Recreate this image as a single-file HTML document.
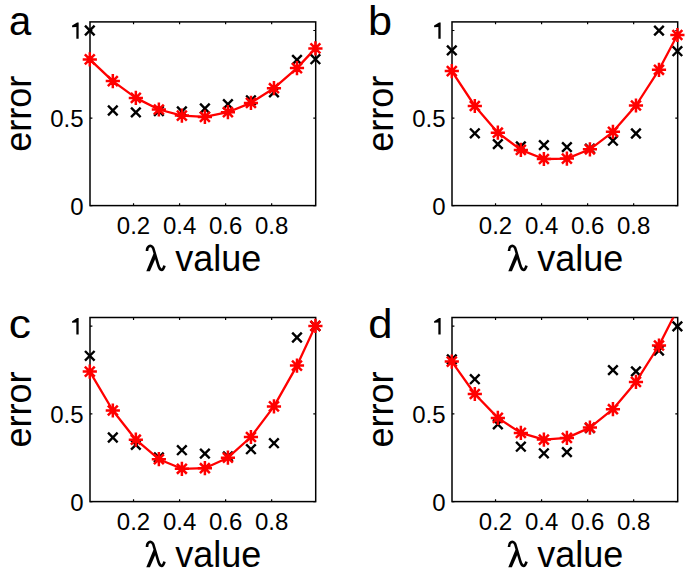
<!DOCTYPE html><html><head><meta charset="utf-8"><style>html,body{margin:0;padding:0;background:#fff;overflow:hidden}svg{display:block}</style></head><body>
<svg width="685" height="578" viewBox="0 0 685 578">
<rect width="685" height="578" fill="#fff"/>
<g>
<clipPath id="clipa"><rect x="90" y="21.9" width="225.7" height="183.7"/></clipPath>
<rect x="90" y="21.9" width="225.7" height="183.7" fill="none" stroke="#000" stroke-width="1.5"/>
<path d="M90 205.6h2.4M315.7 205.6h-2.4M90 118.05h2.4M315.7 118.05h-2.4M90 30.5h2.4M315.7 30.5h-2.4M133.54 205.6v-2.4M133.54 21.9v2.4M179.58 205.6v-2.4M179.58 21.9v2.4M225.62 205.6v-2.4M225.62 21.9v2.4M271.66 205.6v-2.4M271.66 21.9v2.4" stroke="#000" stroke-width="1.2" fill="none"/>
<path d="M85 25.7L94.6 35.3M85 35.3L94.6 25.7M108.02 105.7L117.62 115.3M108.02 115.3L117.62 105.7M131.04 107.6L140.64 117.2M131.04 117.2L140.64 107.6M154.06 106.2L163.66 115.8M154.06 115.8L163.66 106.2M177.08 106.7L186.68 116.3M177.08 116.3L186.68 106.7M200.1 103.7L209.7 113.3M200.1 113.3L209.7 103.7M223.12 99.4L232.72 109M223.12 109L232.72 99.4M246.14 95.5L255.74 105.1M246.14 105.1L255.74 95.5M269.16 87.5L278.76 97.1M269.16 97.1L278.76 87.5M292.18 55.1L301.78 64.7M292.18 64.7L301.78 55.1M310.6 54.4L320.2 64M310.6 64L320.2 54.4" stroke="#000" stroke-width="2.4" fill="none"/>
<path clip-path="url(#clipa)" d="M89.8 59.4L112.82 81.1L135.84 97.9L158.86 109.5L181.88 115.6L204.9 116.9L227.92 112.2L250.94 102.9L273.96 88.2L296.98 68.1L315.4 48.4" stroke="#f00" stroke-width="2.3" fill="none" stroke-linejoin="round"/>
<path d="M82.7 59.4h14.2M89.8 52.3v14.2M84.85 54.45l9.9 9.9M84.85 64.35l9.9 -9.9M105.72 81.1h14.2M112.82 74v14.2M107.87 76.15l9.9 9.9M107.87 86.05l9.9 -9.9M128.74 97.9h14.2M135.84 90.8v14.2M130.89 92.95l9.9 9.9M130.89 102.85l9.9 -9.9M151.76 109.5h14.2M158.86 102.4v14.2M153.91 104.55l9.9 9.9M153.91 114.45l9.9 -9.9M174.78 115.6h14.2M181.88 108.5v14.2M176.93 110.65l9.9 9.9M176.93 120.55l9.9 -9.9M197.8 116.9h14.2M204.9 109.8v14.2M199.95 111.95l9.9 9.9M199.95 121.85l9.9 -9.9M220.82 112.2h14.2M227.92 105.1v14.2M222.97 107.25l9.9 9.9M222.97 117.15l9.9 -9.9M243.84 102.9h14.2M250.94 95.8v14.2M245.99 97.95l9.9 9.9M245.99 107.85l9.9 -9.9M266.86 88.2h14.2M273.96 81.1v14.2M269.01 83.25l9.9 9.9M269.01 93.15l9.9 -9.9M289.88 68.1h14.2M296.98 61v14.2M292.03 63.15l9.9 9.9M292.03 73.05l9.9 -9.9M308.3 48.4h14.2M315.4 41.3v14.2M310.45 43.45l9.9 9.9M310.45 53.35l9.9 -9.9" stroke="#f00" stroke-width="2.5" fill="none"/>
<text x="83.5" y="214.6" font-family="Liberation Sans, sans-serif" font-size="24" text-anchor="end">0</text>
<text x="83.5" y="127.05" font-family="Liberation Sans, sans-serif" font-size="24" text-anchor="end">0.5</text>
<path d="M78.65 22.4V38.8H76.35V26.9L72.1 27.2V25.6L77.1 22.4Z" fill="#000"/>
<text x="133.54" y="234.1" font-family="Liberation Sans, sans-serif" font-size="24" text-anchor="middle">0.2</text>
<text x="179.58" y="234.1" font-family="Liberation Sans, sans-serif" font-size="24" text-anchor="middle">0.4</text>
<text x="225.62" y="234.1" font-family="Liberation Sans, sans-serif" font-size="24" text-anchor="middle">0.6</text>
<text x="271.66" y="234.1" font-family="Liberation Sans, sans-serif" font-size="24" text-anchor="middle">0.8</text>
<g transform="translate(0 0)"><path d="M147 251C146.9 246.4 150.9 243.5 153.3 248.4L158.1 264.6C159.6 270.4 162.8 272.3 164.5 265.6" stroke="#000" stroke-width="2.6" fill="none"/><path d="M153.6 253.4L155.9 257.4L149.9 271.3L146.3 271.3Z" fill="#000"/></g>
<text x="175.2" y="271" font-family="Liberation Sans, sans-serif" font-size="36">value</text>
<text transform="translate(31.3 113.75) rotate(-90)" font-family="Liberation Sans, sans-serif" font-size="36" text-anchor="middle">error</text>
<text transform="translate(9 35) scale(1.0 1)" font-family="Liberation Sans, sans-serif" font-size="40">a</text>
</g>
<g>
<clipPath id="clipb"><rect x="452" y="21.9" width="225.7" height="183.7"/></clipPath>
<rect x="452" y="21.9" width="225.7" height="183.7" fill="none" stroke="#000" stroke-width="1.5"/>
<path d="M452 205.6h2.4M677.7 205.6h-2.4M452 118.05h2.4M677.7 118.05h-2.4M452 30.5h2.4M677.7 30.5h-2.4M495.54 205.6v-2.4M495.54 21.9v2.4M541.58 205.6v-2.4M541.58 21.9v2.4M587.62 205.6v-2.4M587.62 21.9v2.4M633.66 205.6v-2.4M633.66 21.9v2.4" stroke="#000" stroke-width="1.2" fill="none"/>
<path d="M447 45.6L456.6 55.2M447 55.2L456.6 45.6M470.02 128.5L479.62 138.1M470.02 138.1L479.62 128.5M493.04 139.3L502.64 148.9M493.04 148.9L502.64 139.3M516.06 141.6L525.66 151.2M516.06 151.2L525.66 141.6M539.08 140.3L548.68 149.9M539.08 149.9L548.68 140.3M562.1 142.3L571.7 151.9M562.1 151.9L571.7 142.3M585.12 143.8L594.72 153.4M585.12 153.4L594.72 143.8M608.14 135.9L617.74 145.5M608.14 145.5L617.74 135.9M631.16 128.7L640.76 138.3M631.16 138.3L640.76 128.7M654.18 25.8L663.78 35.4M654.18 35.4L663.78 25.8M672.6 46.4L682.2 56M672.6 56L682.2 46.4" stroke="#000" stroke-width="2.4" fill="none"/>
<path clip-path="url(#clipb)" d="M451.8 71.1L474.82 106L497.84 132.7L520.86 149.9L543.88 159L566.9 158.6L589.92 149.3L612.94 131.8L635.96 105.5L658.98 69.8L677.4 35" stroke="#f00" stroke-width="2.3" fill="none" stroke-linejoin="round"/>
<path d="M444.7 71.1h14.2M451.8 64v14.2M446.85 66.15l9.9 9.9M446.85 76.05l9.9 -9.9M467.72 106h14.2M474.82 98.9v14.2M469.87 101.05l9.9 9.9M469.87 110.95l9.9 -9.9M490.74 132.7h14.2M497.84 125.6v14.2M492.89 127.75l9.9 9.9M492.89 137.65l9.9 -9.9M513.76 149.9h14.2M520.86 142.8v14.2M515.91 144.95l9.9 9.9M515.91 154.85l9.9 -9.9M536.78 159h14.2M543.88 151.9v14.2M538.93 154.05l9.9 9.9M538.93 163.95l9.9 -9.9M559.8 158.6h14.2M566.9 151.5v14.2M561.95 153.65l9.9 9.9M561.95 163.55l9.9 -9.9M582.82 149.3h14.2M589.92 142.2v14.2M584.97 144.35l9.9 9.9M584.97 154.25l9.9 -9.9M605.84 131.8h14.2M612.94 124.7v14.2M607.99 126.85l9.9 9.9M607.99 136.75l9.9 -9.9M628.86 105.5h14.2M635.96 98.4v14.2M631.01 100.55l9.9 9.9M631.01 110.45l9.9 -9.9M651.88 69.8h14.2M658.98 62.7v14.2M654.03 64.85l9.9 9.9M654.03 74.75l9.9 -9.9M670.3 35h14.2M677.4 27.9v14.2M672.45 30.05l9.9 9.9M672.45 39.95l9.9 -9.9" stroke="#f00" stroke-width="2.5" fill="none"/>
<text x="445.5" y="214.6" font-family="Liberation Sans, sans-serif" font-size="24" text-anchor="end">0</text>
<text x="445.5" y="127.05" font-family="Liberation Sans, sans-serif" font-size="24" text-anchor="end">0.5</text>
<path d="M440.65 22.4V38.8H438.35V26.9L434.1 27.2V25.6L439.1 22.4Z" fill="#000"/>
<text x="495.54" y="234.1" font-family="Liberation Sans, sans-serif" font-size="24" text-anchor="middle">0.2</text>
<text x="541.58" y="234.1" font-family="Liberation Sans, sans-serif" font-size="24" text-anchor="middle">0.4</text>
<text x="587.62" y="234.1" font-family="Liberation Sans, sans-serif" font-size="24" text-anchor="middle">0.6</text>
<text x="633.66" y="234.1" font-family="Liberation Sans, sans-serif" font-size="24" text-anchor="middle">0.8</text>
<g transform="translate(362 0)"><path d="M147 251C146.9 246.4 150.9 243.5 153.3 248.4L158.1 264.6C159.6 270.4 162.8 272.3 164.5 265.6" stroke="#000" stroke-width="2.6" fill="none"/><path d="M153.6 253.4L155.9 257.4L149.9 271.3L146.3 271.3Z" fill="#000"/></g>
<text x="537.2" y="271" font-family="Liberation Sans, sans-serif" font-size="36">value</text>
<text transform="translate(393.3 113.75) rotate(-90)" font-family="Liberation Sans, sans-serif" font-size="36" text-anchor="middle">error</text>
<text transform="translate(368.1 35) scale(1.08 1)" font-family="Liberation Sans, sans-serif" font-size="40">b</text>
</g>
<g>
<clipPath id="clipc"><rect x="90" y="317.5" width="225.7" height="184.1"/></clipPath>
<rect x="90" y="317.5" width="225.7" height="184.1" fill="none" stroke="#000" stroke-width="1.5"/>
<path d="M90 501.6h2.4M315.7 501.6h-2.4M90 413.85h2.4M315.7 413.85h-2.4M90 326.1h2.4M315.7 326.1h-2.4M133.54 501.6v-2.4M133.54 317.5v2.4M179.58 501.6v-2.4M179.58 317.5v2.4M225.62 501.6v-2.4M225.62 317.5v2.4M271.66 501.6v-2.4M271.66 317.5v2.4" stroke="#000" stroke-width="1.2" fill="none"/>
<path d="M85 351L94.6 360.6M85 360.6L94.6 351M108.02 432.7L117.62 442.3M108.02 442.3L117.62 432.7M131.04 440.1L140.64 449.7M131.04 449.7L140.64 440.1M154.06 452.6L163.66 462.2M154.06 462.2L163.66 452.6M177.08 445.4L186.68 455M177.08 455L186.68 445.4M200.1 448.8L209.7 458.4M200.1 458.4L209.7 448.8M223.12 451.6L232.72 461.2M223.12 461.2L232.72 451.6M246.14 444.4L255.74 454M246.14 454L255.74 444.4M269.16 438.4L278.76 448M269.16 448L278.76 438.4M292.18 332.7L301.78 342.3M292.18 342.3L301.78 332.7M310.6 321.2L320.2 330.8M310.6 330.8L320.2 321.2" stroke="#000" stroke-width="2.4" fill="none"/>
<path clip-path="url(#clipc)" d="M89.8 371.6L112.82 410.5L135.84 439.7L158.86 459.2L181.88 468.8L204.9 468.2L227.92 457.7L250.94 437L273.96 406.4L296.98 365.6L315.4 325.9" stroke="#f00" stroke-width="2.3" fill="none" stroke-linejoin="round"/>
<path d="M82.7 371.6h14.2M89.8 364.5v14.2M84.85 366.65l9.9 9.9M84.85 376.55l9.9 -9.9M105.72 410.5h14.2M112.82 403.4v14.2M107.87 405.55l9.9 9.9M107.87 415.45l9.9 -9.9M128.74 439.7h14.2M135.84 432.6v14.2M130.89 434.75l9.9 9.9M130.89 444.65l9.9 -9.9M151.76 459.2h14.2M158.86 452.1v14.2M153.91 454.25l9.9 9.9M153.91 464.15l9.9 -9.9M174.78 468.8h14.2M181.88 461.7v14.2M176.93 463.85l9.9 9.9M176.93 473.75l9.9 -9.9M197.8 468.2h14.2M204.9 461.1v14.2M199.95 463.25l9.9 9.9M199.95 473.15l9.9 -9.9M220.82 457.7h14.2M227.92 450.6v14.2M222.97 452.75l9.9 9.9M222.97 462.65l9.9 -9.9M243.84 437h14.2M250.94 429.9v14.2M245.99 432.05l9.9 9.9M245.99 441.95l9.9 -9.9M266.86 406.4h14.2M273.96 399.3v14.2M269.01 401.45l9.9 9.9M269.01 411.35l9.9 -9.9M289.88 365.6h14.2M296.98 358.5v14.2M292.03 360.65l9.9 9.9M292.03 370.55l9.9 -9.9M308.3 325.9h14.2M315.4 318.8v14.2M310.45 320.95l9.9 9.9M310.45 330.85l9.9 -9.9" stroke="#f00" stroke-width="2.5" fill="none"/>
<text x="83.5" y="510.6" font-family="Liberation Sans, sans-serif" font-size="24" text-anchor="end">0</text>
<text x="83.5" y="422.85" font-family="Liberation Sans, sans-serif" font-size="24" text-anchor="end">0.5</text>
<path d="M78.65 318V334.4H76.35V322.5L72.1 322.8V321.2L77.1 318Z" fill="#000"/>
<text x="133.54" y="530.1" font-family="Liberation Sans, sans-serif" font-size="24" text-anchor="middle">0.2</text>
<text x="179.58" y="530.1" font-family="Liberation Sans, sans-serif" font-size="24" text-anchor="middle">0.4</text>
<text x="225.62" y="530.1" font-family="Liberation Sans, sans-serif" font-size="24" text-anchor="middle">0.6</text>
<text x="271.66" y="530.1" font-family="Liberation Sans, sans-serif" font-size="24" text-anchor="middle">0.8</text>
<g transform="translate(0 296)"><path d="M147 251C146.9 246.4 150.9 243.5 153.3 248.4L158.1 264.6C159.6 270.4 162.8 272.3 164.5 265.6" stroke="#000" stroke-width="2.6" fill="none"/><path d="M153.6 253.4L155.9 257.4L149.9 271.3L146.3 271.3Z" fill="#000"/></g>
<text x="175.2" y="567" font-family="Liberation Sans, sans-serif" font-size="36">value</text>
<text transform="translate(31.3 409.55) rotate(-90)" font-family="Liberation Sans, sans-serif" font-size="36" text-anchor="middle">error</text>
<text transform="translate(8.7 338.3) scale(1.11 1)" font-family="Liberation Sans, sans-serif" font-size="40">c</text>
</g>
<g>
<clipPath id="clipd"><rect x="452" y="317.5" width="225.7" height="184.1"/></clipPath>
<rect x="452" y="317.5" width="225.7" height="184.1" fill="none" stroke="#000" stroke-width="1.5"/>
<path d="M452 501.6h2.4M677.7 501.6h-2.4M452 413.85h2.4M677.7 413.85h-2.4M452 326.1h2.4M677.7 326.1h-2.4M495.54 501.6v-2.4M495.54 317.5v2.4M541.58 501.6v-2.4M541.58 317.5v2.4M587.62 501.6v-2.4M587.62 317.5v2.4M633.66 501.6v-2.4M633.66 317.5v2.4" stroke="#000" stroke-width="1.2" fill="none"/>
<path d="M447 354.6L456.6 364.2M447 364.2L456.6 354.6M470.02 374.4L479.62 384M470.02 384L479.62 374.4M493.04 419.5L502.64 429.1M493.04 429.1L502.64 419.5M516.06 441.9L525.66 451.5M516.06 451.5L525.66 441.9M539.08 448.5L548.68 458.1M539.08 458.1L548.68 448.5M562.1 447.3L571.7 456.9M562.1 456.9L571.7 447.3M585.12 423.2L594.72 432.8M585.12 432.8L594.72 423.2M608.14 365.3L617.74 374.9M608.14 374.9L617.74 365.3M631.16 366.6L640.76 376.2M631.16 376.2L640.76 366.6M654.18 345.7L663.78 355.3M654.18 355.3L663.78 345.7M672.6 321.6L682.2 331.2M672.6 331.2L682.2 321.6" stroke="#000" stroke-width="2.4" fill="none"/>
<path clip-path="url(#clipd)" d="M451.8 361.6L474.82 394L497.84 417.9L520.86 432.9L543.88 439.6L566.9 437.9L589.92 427.6L612.94 409.2L635.96 381.9L658.98 345.5L677.4 309.3" stroke="#f00" stroke-width="2.3" fill="none" stroke-linejoin="round"/>
<path d="M444.7 361.6h14.2M451.8 354.5v14.2M446.85 356.65l9.9 9.9M446.85 366.55l9.9 -9.9M467.72 394h14.2M474.82 386.9v14.2M469.87 389.05l9.9 9.9M469.87 398.95l9.9 -9.9M490.74 417.9h14.2M497.84 410.8v14.2M492.89 412.95l9.9 9.9M492.89 422.85l9.9 -9.9M513.76 432.9h14.2M520.86 425.8v14.2M515.91 427.95l9.9 9.9M515.91 437.85l9.9 -9.9M536.78 439.6h14.2M543.88 432.5v14.2M538.93 434.65l9.9 9.9M538.93 444.55l9.9 -9.9M559.8 437.9h14.2M566.9 430.8v14.2M561.95 432.95l9.9 9.9M561.95 442.85l9.9 -9.9M582.82 427.6h14.2M589.92 420.5v14.2M584.97 422.65l9.9 9.9M584.97 432.55l9.9 -9.9M605.84 409.2h14.2M612.94 402.1v14.2M607.99 404.25l9.9 9.9M607.99 414.15l9.9 -9.9M628.86 381.9h14.2M635.96 374.8v14.2M631.01 376.95l9.9 9.9M631.01 386.85l9.9 -9.9M651.88 345.5h14.2M658.98 338.4v14.2M654.03 340.55l9.9 9.9M654.03 350.45l9.9 -9.9" stroke="#f00" stroke-width="2.5" fill="none"/>
<text x="445.5" y="510.6" font-family="Liberation Sans, sans-serif" font-size="24" text-anchor="end">0</text>
<text x="445.5" y="422.85" font-family="Liberation Sans, sans-serif" font-size="24" text-anchor="end">0.5</text>
<path d="M440.65 318V334.4H438.35V322.5L434.1 322.8V321.2L439.1 318Z" fill="#000"/>
<text x="495.54" y="530.1" font-family="Liberation Sans, sans-serif" font-size="24" text-anchor="middle">0.2</text>
<text x="541.58" y="530.1" font-family="Liberation Sans, sans-serif" font-size="24" text-anchor="middle">0.4</text>
<text x="587.62" y="530.1" font-family="Liberation Sans, sans-serif" font-size="24" text-anchor="middle">0.6</text>
<text x="633.66" y="530.1" font-family="Liberation Sans, sans-serif" font-size="24" text-anchor="middle">0.8</text>
<g transform="translate(362 296)"><path d="M147 251C146.9 246.4 150.9 243.5 153.3 248.4L158.1 264.6C159.6 270.4 162.8 272.3 164.5 265.6" stroke="#000" stroke-width="2.6" fill="none"/><path d="M153.6 253.4L155.9 257.4L149.9 271.3L146.3 271.3Z" fill="#000"/></g>
<text x="537.2" y="567" font-family="Liberation Sans, sans-serif" font-size="36">value</text>
<text transform="translate(393.3 409.55) rotate(-90)" font-family="Liberation Sans, sans-serif" font-size="36" text-anchor="middle">error</text>
<text transform="translate(368.3 338.3) scale(1.09 1)" font-family="Liberation Sans, sans-serif" font-size="40">d</text>
</g>
</svg></body></html>
